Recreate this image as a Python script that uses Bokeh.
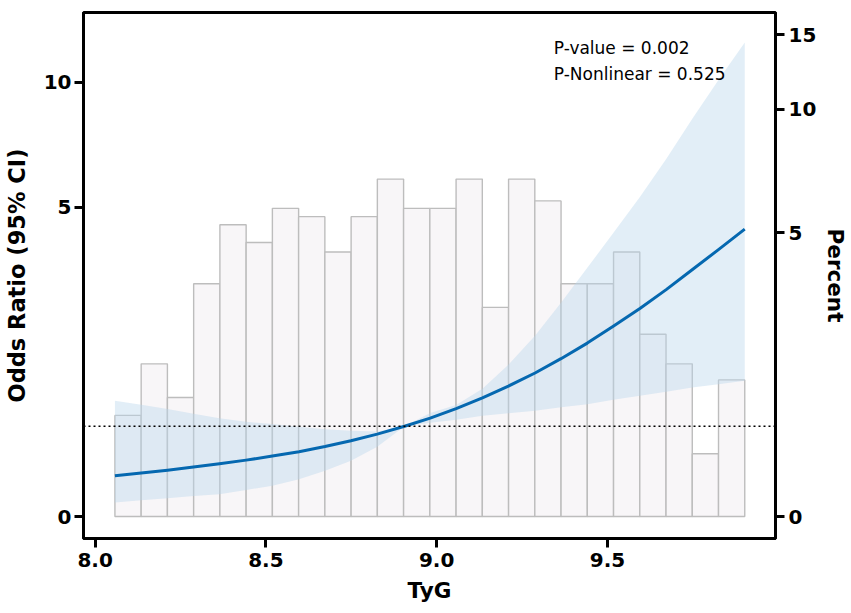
import numpy as np
from bokeh.plotting import figure
from bokeh.models import (FixedTicker, CustomJSTickFormatter, LinearAxis, Span,
                          Label, ColumnDataSource)
from bokeh.embed import file_html
from bokeh.resources import INLINE

# ---- data ----
# histogram of TyG (percent of participants per bin)
hist_pct = [1.31, 2.10, 1.57, 3.67, 5.24, 4.72, 5.76, 5.49, 4.46, 5.49, 6.80, 5.76,
            5.76, 6.80, 3.15, 6.80, 6.01, 3.67, 3.67, 4.46, 2.62, 2.10, 0.79, 1.84]
tyg_min = 8.058
tyg_max = 9.902

# restricted cubic spline: odds ratio and 95% CI
tyg_curve = [8.058, 8.135, 8.212, 8.288, 8.364, 8.442, 8.519, 8.597, 8.673, 8.749,
             8.826, 8.906, 8.981, 9.057, 9.134, 9.210, 9.288, 9.364, 9.441,
             9.517, 9.595, 9.672, 9.748, 9.825, 9.902]
or_est = [0.437, 0.468, 0.499, 0.534, 0.570, 0.610, 0.655, 0.705, 0.763, 0.830,
          0.907, 1.0, 1.097, 1.215, 1.351, 1.505, 1.683, 1.887, 2.122,
          2.392, 2.700, 3.051, 3.454, 3.904, 4.405]
or_lower = [0.149, 0.173, 0.196, 0.218, 0.239, 0.285, 0.329, 0.401, 0.492, 0.602,
            0.760, 1.0, 1.040, 1.077, 1.125, 1.156, 1.187, 1.230, 1.270,
            1.325, 1.377, 1.429, 1.486, 1.528, 1.575]
or_upper = [1.312, 1.262, 1.208, 1.150, 1.097, 1.052, 1.025, 0.993, 0.965, 0.945,
            0.936, 1.0, 1.160, 1.260, 1.468, 1.798, 2.237, 2.802, 3.496,
            4.308, 5.304, 6.569, 8.192, 10.13, 12.41]

or_ticks = [0, 5, 10]
pct_ticks = [0, 5, 10, 15]
x_ticks = [8.0, 8.5, 9.0, 9.5]
p_texts = ["P-value = 0.002", "P-Nonlinear = 0.525"]

PCT_TO_OR = 0.863   # secondary axis: percent mapped onto odds-ratio scale


def tr(v):
    """pseudo-log (asinh, sigma=1) transform used by the y axes"""
    return np.arcsinh(np.asarray(v, dtype=float) / 2.0)


p = figure(width=851, height=613, x_range=(7.966, 9.992), y_range=(-0.117, 2.685),
           output_backend="svg", toolbar_location=None,
           min_border_left=81, min_border_right=75, min_border_top=12,
           min_border_bottom=75)
p.background_fill_color = "white"
p.border_fill_color = "white"
p.grid.visible = False
p.outline_line_color = "black"
p.outline_line_width = 3

# histogram bars
edges = np.linspace(tyg_min, tyg_max, len(hist_pct) + 1)
bar_src = ColumnDataSource(dict(left=edges[:-1], right=edges[1:],
                                top=tr(np.array(hist_pct) * PCT_TO_OR)))
p.quad(left="left", right="right", bottom=0, top="top", source=bar_src,
       fill_color="#f8f6f8", line_color="#bdbdbd", line_width=1.4)

# confidence band
band_src = ColumnDataSource(dict(x=tyg_curve, lo=tr(or_lower), hi=tr(or_upper)))
p.varea(x="x", y1="lo", y2="hi", source=band_src, fill_color="#bbd7ed",
        fill_alpha=0.42)

# reference line OR = 1
p.add_layout(Span(location=float(tr(1.0)), dimension="width", line_color="black",
                  line_dash="2 3", line_width=1.5))

# spline curve
p.line(tyg_curve, tr(or_est), line_color="#0568b0", line_width=3,
       line_join="round")

# p-value texts
p.add_layout(Label(x=9.343, y=2.496, text=p_texts[0], text_font="DejaVu Sans",
                   text_font_size="17px", text_color="black",
                   text_baseline="alphabetic"))
p.add_layout(Label(x=9.343, y=2.360, text=p_texts[1], text_font="DejaVu Sans",
                   text_font_size="17px", text_color="black",
                   text_baseline="alphabetic"))


def style_axis(ax):
    ax.axis_line_width = 3
    ax.axis_line_color = "black"
    ax.major_tick_line_width = 3
    ax.major_tick_line_color = "black"
    ax.major_tick_out = 9
    ax.major_tick_in = 0
    ax.minor_tick_line_color = None
    ax.major_label_text_font = "DejaVu Sans"
    ax.major_label_text_font_style = "bold"
    ax.major_label_text_font_size = "20px"
    ax.major_label_text_color = "black"
    ax.axis_label_text_font = "DejaVu Sans"
    ax.axis_label_text_font_style = "bold"
    ax.axis_label_text_font_size = "21.5px"
    ax.axis_label_text_color = "black"


# x axis
xa = p.xaxis[0]
style_axis(xa)
xa.ticker = FixedTicker(ticks=x_ticks)
xa.formatter = CustomJSTickFormatter(code="return tick.toFixed(1);")
xa.axis_label = "TyG"
xa.major_label_standoff = 5
xa.axis_label_standoff = 8

# left axis (odds ratio, pseudo-log)
ya = p.yaxis[0]
style_axis(ya)
ya.ticker = FixedTicker(ticks=[float(t) for t in tr(or_ticks)])
ya.formatter = CustomJSTickFormatter(code="return Math.round(2*Math.sinh(tick)).toString();")
ya.axis_label = "Odds Ratio (95% CI)"
ya.axis_label_text_font_size = "22.5px"
ya.major_label_standoff = 3
ya.axis_label_standoff = 11

# right axis (percent)
ra = LinearAxis(ticker=FixedTicker(ticks=[float(t) for t in tr(np.array(pct_ticks) * PCT_TO_OR)]),
                formatter=CustomJSTickFormatter(
                    args=dict(k=PCT_TO_OR),
                    code="return Math.round(2*Math.sinh(tick)/k).toString();"),
                axis_label="Percent")
style_axis(ra)
ra.major_label_standoff = 4
ra.axis_label_standoff = 4
p.add_layout(ra, "right")

open("out.html", "w").write(file_html(p, INLINE))
